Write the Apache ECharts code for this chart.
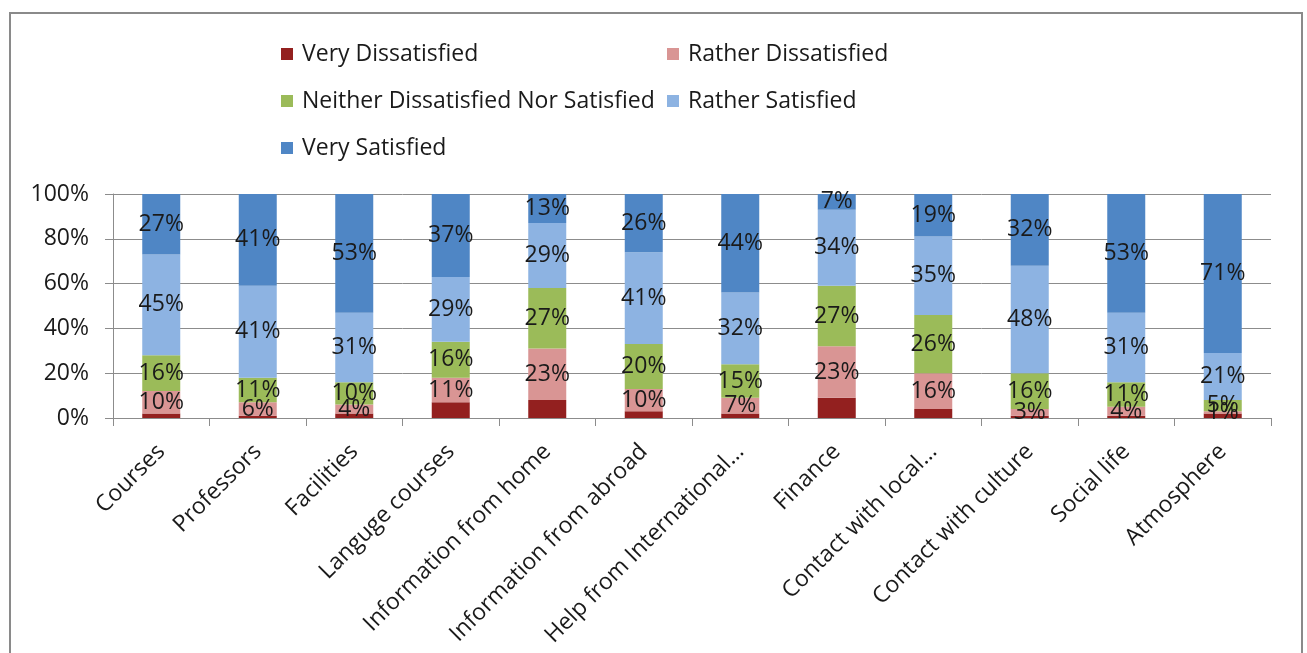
<!DOCTYPE html>
<html>
<head>
<meta charset="utf-8">
<script src="https://cdn.jsdelivr.net/npm/echarts@6/dist/echarts.min.js"></script>
<style>
  html, body { margin: 0; padding: 0; background: #fff; }
  #chart { width: 1307px; height: 653px; }
</style>
</head>
<body>
<div id="chart"></div>
<script>
// Survey topics (x axis)
const categories = [
  'Courses', 'Professors', 'Facilities', 'Languge courses',
  'Information from home', 'Information from abroad',
  'Help from International\u2026', 'Finance', 'Contact with local\u2026',
  'Contact with culture', 'Social life', 'Atmosphere'
];

// Share of answers per satisfaction level, in percent
const veryDissatisfied   = [2, 1, 2, 7, 8, 3, 2, 9, 4, 1, 1, 2];
const ratherDissatisfied = [10, 6, 4, 11, 23, 10, 7, 23, 16, 3, 4, 1];
const neitherNor         = [16, 11, 10, 16, 27, 20, 15, 27, 26, 16, 11, 5];
const ratherSatisfied    = [45, 41, 31, 29, 29, 41, 32, 34, 35, 48, 31, 21];
const verySatisfied      = [27, 41, 53, 37, 13, 26, 44, 7, 19, 32, 53, 71];

const yTicks = [0, 20, 40, 60, 80, 100];

const seriesDefs = [
  { name: 'Very Dissatisfied', data: veryDissatisfied, color: '#93201F', label: false },
  { name: 'Rather Dissatisfied', data: ratherDissatisfied, color: '#D99594', label: true },
  { name: 'Neither Dissatisfied Nor Satisfied', data: neitherNor, color: '#9BBB59', label: true },
  { name: 'Rather Satisfied', data: ratherSatisfied, color: '#8DB3E2', label: true },
  { name: 'Very Satisfied', data: verySatisfied, color: '#4F86C5', label: true }
];

const FONT = '"Open Sans", "Noto Sans", sans-serif';
const FONT_SIZE = 23;

// Legend laid out as two columns, one legend block per entry
const legendSpots = [
  { left: 281, top: 40 },
  { left: 667, top: 40 },
  { left: 281, top: 87 },
  { left: 667, top: 87 },
  { left: 281, top: 134 }
];

const chart = echarts.init(document.getElementById('chart'), null, { renderer: 'canvas' });

chart.setOption({
  backgroundColor: '#ffffff',
  animation: false,
  graphic: [{
    type: 'rect',
    shape: { x: 10, y: 13, width: 1292, height: 700 },
    style: { fill: 'none', stroke: '#8a8a8a', lineWidth: 2 },
    silent: true
  }],
  legend: seriesDefs.map((s, i) => ({
    data: [s.name],
    left: legendSpots[i].left,
    top: legendSpots[i].top,
    padding: 0,
    icon: 'rect',
    itemWidth: 12,
    itemHeight: 12,
    selectedMode: false,
    textStyle: {
      fontFamily: FONT, fontSize: FONT_SIZE, color: '#1a1a1a',
      lineHeight: 28, padding: [0, 0, 0, 4]
    }
  })),
  grid: { left: 113, right: 36, top: 194, height: 224, containLabel: false },
  xAxis: {
    type: 'category',
    data: categories,
    axisLine: { show: true, lineStyle: { color: '#8c8c8c', width: 1 } },
    axisTick: { show: true, length: 8, alignWithLabel: false, lineStyle: { color: '#8c8c8c' } },
    axisLabel: {
      interval: 0, rotate: 45, margin: 30,
      fontFamily: FONT, fontSize: FONT_SIZE, color: '#1a1a1a'
    }
  },
  yAxis: {
    type: 'value',
    min: yTicks[0],
    max: yTicks[yTicks.length - 1],
    interval: yTicks[1] - yTicks[0],
    axisLine: { show: true, lineStyle: { color: '#8c8c8c', width: 1 } },
    axisTick: { show: true, length: 8, lineStyle: { color: '#8c8c8c' } },
    splitLine: { show: true, lineStyle: { color: '#8c8c8c', width: 1 } },
    axisLabel: {
      formatter: '{value}%', margin: 24,
      fontFamily: FONT, fontSize: FONT_SIZE, color: '#1a1a1a'
    }
  },
  series: seriesDefs.map(s => ({
    name: s.name,
    type: 'bar',
    stack: 'total',
    barWidth: 38,
    data: s.data,
    itemStyle: { color: s.color },
    label: {
      show: s.label,
      position: 'inside',
      formatter: '{c}%',
      fontFamily: FONT, fontSize: FONT_SIZE, color: '#1a1a1a'
    },
    labelLayout: { hideOverlap: false }
  }))
});
</script>
</body>
</html>
